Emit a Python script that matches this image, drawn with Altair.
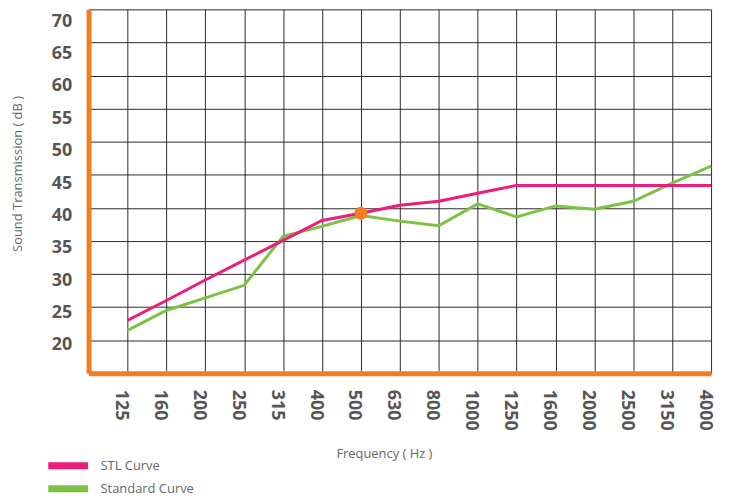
import altair as alt
import pandas as pd

# ---- data ----
freqs = ["125", "160", "200", "250", "315", "400", "500", "630", "800",
         "1000", "1250", "1600", "2000", "2500", "3150", "4000"]
stl_curve = [23.0, 26.0, 29.1, 32.1, 35.1, 38.1, 39.2, 40.4, 41.0,
             42.2, 43.4, 43.4, 43.4, 43.4, 43.4, 43.4]
standard_curve = [21.5, 24.5, 26.4, 28.3, 35.7, 37.2, 38.85, 38.0, 37.3,
                  40.6, 38.65, 40.3, 39.8, 41.0, 43.75, 46.3]
marker_freq = "500"
marker_value = 39.2
y_ticks = [20, 25, 30, 35, 40, 45, 50, 55, 60, 65, 70]
series_names = ["STL Curve", "Standard Curve"]
series_colors = ["#EC1E79", "#7CC243"]
ORANGE = "#F47C20"

rows = []
for i, f in enumerate(freqs, start=1):
    rows.append({"idx": i, "freq": f, "series": series_names[0], "value": stl_curve[i - 1]})
    rows.append({"idx": i, "freq": f, "series": series_names[1], "value": standard_curve[i - 1]})
df = pd.DataFrame(rows)
marker_df = pd.DataFrame([{"idx": freqs.index(marker_freq) + 1, "value": marker_value}])

label_expr = "[''," + ",".join("'" + f + "'" for f in freqs) + "][datum.value]"

x_enc = alt.X(
    "idx:Q",
    scale=alt.Scale(domain=[0, len(freqs)], nice=False, zero=False),
    axis=alt.Axis(
        values=list(range(1, len(freqs) + 1)),
        labelExpr=label_expr,
        labelAngle=90,
        labelPadding=16,
        labelOffset=-7,
        labelFlush=False,
        labelOverlap=False,
        title="Frequency ( Hz )",
        titleX=297,
        titleY=81,
        titleBaseline="middle",
        titleAlign="center",
    ),
)
y_enc = alt.Y(
    "value:Q",
    scale=alt.Scale(domain=[15, 70], nice=False, zero=False),
    axis=alt.Axis(
        values=y_ticks,
        labelPadding=17,
        labelOffset=alt.ExprRef("4.6 + (datum.value - 20) * 0.148"),
        labelFlush=False,
        labelOverlap=False,
        title="Sound Transmission ( dB )",
        titleX=-71,
        titleY=165,
        titleBaseline="middle",
        titleAlign="center",
        titleAngle=270,
    ),
)
color_enc = alt.Color(
    "series:N",
    scale=alt.Scale(domain=series_names, range=series_colors),
    legend=alt.Legend(
        title=None,
        orient="none",
        legendX=-44,
        legendY=451,
        symbolType="stroke",
        symbolSize=1600,
        symbolStrokeWidth=7,
        clipHeight=16,
        rowPadding=7,
        labelOffset=9,
        labelFontSize=13,
        labelColor="#666666",
        labelFont="Open Sans",
    ),
)

green = alt.Chart(df).transform_filter(
    alt.datum.series == series_names[1]
).mark_line(strokeWidth=3).encode(x=x_enc, y=y_enc, color=color_enc)
pink = alt.Chart(df).transform_filter(
    alt.datum.series == series_names[0]
).mark_line(strokeWidth=3).encode(x=x_enc, y=y_enc, color=color_enc)
dot = alt.Chart(marker_df).mark_circle(size=170, color=ORANGE, opacity=1).encode(
    x=x_enc, y=y_enc
)

chart = alt.layer(green, pink, dot).properties(
    width=626,
    height=366,
    autosize=alt.AutoSizeParams(type="none"),
    padding={"left": 81, "top": 0, "right": 12, "bottom": 125},
).configure_view(stroke=None).configure_axis(
    domainColor=ORANGE,
    domainWidth=5,
    ticks=False,
    tickSize=0,
    grid=True,
    gridColor="#2a2a2a",
    gridWidth=1,
    labelFont="Open Sans",
    labelFontSize=18,
    labelFontWeight="bold",
    labelColor="#555555",
    titleFont="Open Sans",
    titleFontSize=13,
    titleFontWeight="normal",
    titleColor="#666666",
)

chart.save("out.html", embed_options={"renderer": "svg", "actions": False})
